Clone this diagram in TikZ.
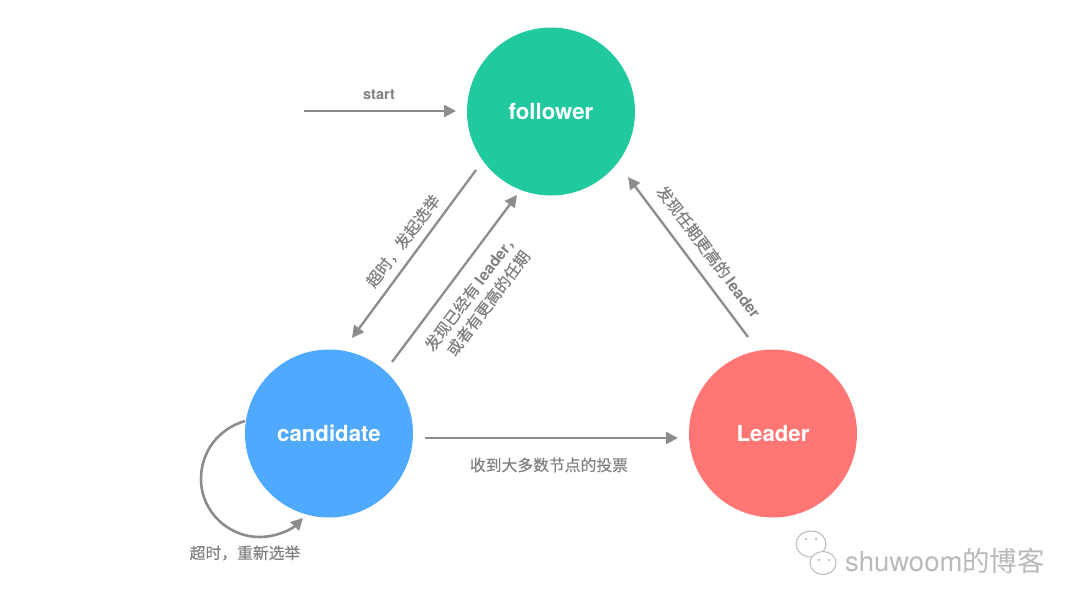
\documentclass[tikz,border=0pt]{standalone}
\usepackage{fontspec}
\setmainfont{TeX Gyre Heros}
\newfontfamily\cjk{Noto Sans CJK SC}
\newfontfamily\cjkmed[FakeBold=0.3]{Noto Sans CJK SC}
\newcommand{\latbold}{\rmfamily\bfseries}
\usetikzlibrary{arrows.meta}
\definecolor{linegray}{HTML}{8C8C8C}
\definecolor{textgray}{HTML}{808080}
\definecolor{folgreen}{HTML}{21C99F}
\definecolor{canblue}{HTML}{4FA9FF}
\definecolor{leadred}{HTML}{FF7674}
\definecolor{markgray}{HTML}{B9B9B9}
\tikzset{
  statecircle/.style={circle,minimum size=168pt,inner sep=0pt,text=white,font=\fontsize{22.2}{24}\selectfont\bfseries},
  conn/.style={draw=linegray,line width=2.3pt,-{Triangle[length=12pt,width=12pt]}},
  lab/.style={text=textgray,font=\fontsize{15.8}{20.5}\selectfont\cjkmed,align=center,inner sep=0pt},
  bubble/.style={draw=markgray,line width=1pt,fill=white},
  eye/.style={circle,fill=markgray,minimum size=2.5pt,inner sep=0pt},
}
\begin{document}
\begin{tikzpicture}[x=1pt,y=-1pt]
\useasboundingbox (0,0) rectangle (1080,608);
\node[statecircle,fill=folgreen] (follower) at (551,111.5) {follower};
\node[statecircle,fill=canblue] (candidate) at (329,433.5) {candidate};
\node[statecircle,fill=leadred] (leader) at (773,433.5) {Leader};

\coordinate (startfree) at (304,111);
\coordinate (startend) at (456,111);
\coordinate (ftc1) at (476,170);
\coordinate (ftc2) at (352,338);
\coordinate (ctf1) at (392,362);
\coordinate (ctf2) at (517,195);
\coordinate (ltf1) at (748,337);
\coordinate (ltf2) at (628,177);
\coordinate (ctl1) at (425,438);
\coordinate (ctl2) at (678,438);
\coordinate (loop1) at (245,421);
\coordinate (loop2) at (303,518);

\draw[conn] (startfree) -- (startend);
\draw[conn] (ftc1) -- (ftc2);
\draw[conn] (ctf1) -- (ctf2);
\draw[conn] (ltf1) -- (ltf2);
\draw[conn] (ctl1) -- (ctl2);
\draw[conn,line width=2.6pt] (loop1) .. controls (218,429) and (201,452) .. (201,479)
  .. controls (201,513) and (230,537) .. (259,537)
  .. controls (277,537) and (292,529) .. (loop2);

\node[lab,font=\fontsize{14.5}{17}\selectfont\latbold] (tstart) at (379,94.5) {start};
\node[lab,rotate=53] (t1) at (403,241) {超时，发起选举};
\node[lab,rotate=53] (t2) at (480,297) {发现已经有 {\latbold leader}，\\或者有更高的任期};
\node[lab,rotate=-53] (t3) at (709,252) {发现任期更高的 {\latbold leader}};
\node[lab] (t4) at (549,465) {收到大多数节点的投票};
\node[lab] (t5) at (245,553) {超时，重新选举};

% watermark
\draw[bubble] (811,544) ellipse (15 and 13);
\draw[bubble] (823,563) ellipse (13 and 11.5);
\node[eye] (e1) at (806,539) {};
\node[eye] (e2) at (816,539) {};
\node[eye] (e3) at (819,560) {};
\node[eye] (e4) at (829,560) {};
\node[text=markgray,font=\fontsize{27.5}{30}\selectfont,inner sep=0pt] (mark) at (945,561) {shuwoom{\cjk 的博客}};
\end{tikzpicture}
\end{document}
